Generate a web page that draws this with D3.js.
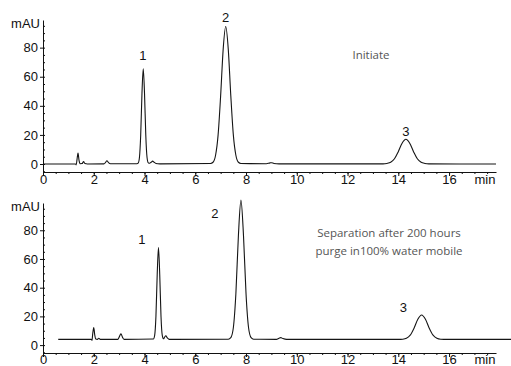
<!DOCTYPE html>
<html>
<head>
<meta charset="utf-8">
<script src="https://cdn.jsdelivr.net/npm/d3@7"></script>
<style>
  html, body { margin: 0; padding: 0; background: #fff; }
  svg { display: block; }
</style>
</head>
<body>
<div id="chart"></div>
<script>
// Axis ticks (minutes / mAU)
const xTicks = [0, 2, 4, 6, 8, 10, 12, 14, 16];
const xMinorTicks = d3.range(0, 18, 0.5);
const yTicks = [0, 20, 40, 60, 80];
const yMinorTicks = d3.range(-5, 100, 5);

// Initial chromatogram, [min, mAU]
const initialTrace = [
    [0, 0], [1.28, 0], [1.31, -0.6], [1.34, 3], [1.38, 7.5], [1.42, 2.5], [1.46, 0.2],
    [1.54, 0.3], [1.6, 1.6], [1.65, 0.3], [1.75, 0],
    [2.4, 0.1], [2.46, 1], [2.52, 2.2], [2.58, 1], [2.66, 0.2],
    [3.7, 0.2], [3.75, 0.6], [3.8, 4.5], [3.85, 20], [3.9, 48.6], [3.95, 65.5], [4.0, 48.6],
    [4.05, 20], [4.1, 4.5], [4.15, 0.8], [4.2, 0.5], [4.26, 1.2], [4.32, 2], [4.38, 1.2],
    [4.45, 0.4], [4.6, 0.1],
    [6.6, 0.3], [6.7, 1.2], [6.8, 6], [6.9, 20], [7.0, 47], [7.1, 79], [7.2, 94.5], [7.3, 79],
    [7.4, 47], [7.5, 20], [7.6, 6], [7.7, 1.2], [7.8, 0.3],
    [8.8, 0.2], [8.95, 0.8], [9.0, 0.9], [9.1, 0.4], [9.3, 0.1],
    [13.4, 0.1], [13.55, 0.4], [13.7, 1.2], [13.85, 3.6], [14.0, 8.5], [14.15, 14.3], [14.3, 17],
    [14.45, 14.3], [14.6, 8.5], [14.75, 3.6], [14.9, 1.2], [15.05, 0.4], [15.2, 0.1],
    [17.85, 0]
];

// After 200 h purge in 100% water
const agedTrace = [
    [0.6, 4], [1.9, 4], [1.93, 3.3], [1.96, 8], [2.0, 12.3], [2.04, 7], [2.08, 4.2],
    [2.14, 4], [2.2, 4.8], [2.26, 4],
    [2.95, 4], [3.0, 5.5], [3.07, 7.8], [3.14, 5.2], [3.2, 4],
    [4.35, 4.3], [4.4, 6.8], [4.45, 20], [4.5, 49], [4.55, 68], [4.6, 49], [4.65, 20],
    [4.7, 6.8], [4.75, 4.4], [4.79, 5.5], [4.84, 6.5], [4.9, 5], [4.98, 4],
    [7.3, 4.1], [7.4, 5.2], [7.5, 12.1], [7.6, 35.8], [7.7, 76.4], [7.8, 101], [7.9, 76.4],
    [8.0, 35.8], [8.1, 12.1], [8.2, 5.2], [8.3, 4.1],
    [9.2, 4], [9.3, 4.8], [9.37, 5.2], [9.45, 4.6], [9.6, 4],
    [14.1, 4], [14.17, 4.1], [14.32, 4.75], [14.47, 6.9], [14.62, 11.8], [14.77, 18],
    [14.92, 21], [15.07, 18], [15.22, 11.8], [15.37, 6.9], [15.52, 4.75], [15.67, 4.1],
    [15.8, 4], [18.45, 4]
];

// Peak numbers, anchored in data units
const initialPeakLabels = [
    { text: '1', t: 3.94, v: 71.5 },
    { text: '2', t: 7.2, v: 97.6 },
    { text: '3', t: 14.3, v: 19.2 }
];
const agedPeakLabels = [
    { text: '1', t: 3.9, v: 70.4 },
    { text: '2', t: 6.77, v: 88.5 },
    { text: '3', t: 14.2, v: 23 }
];

const initialNote = ['Initiate'];
const agedNote = ['Separation after 200 hours', 'purge in100% water mobile'];

const width = 511;
const height = 366;

const svg = d3.select('#chart')
    .append('svg')
    .attr('width', width)
    .attr('height', height)
    .attr('viewBox', `0 0 ${width} ${height}`);

const x = d3.scaleLinear().domain([0, 17.85]).range([43, 496]);

const line = (y) => d3.line()
    .x(d => x(d[0]))
    .y(d => y(d[1]))
    .curve(d3.curveMonotoneX);

function drawPanel(opts) {
    const y = d3.scaleLinear().domain([-5.5, 99]).range([opts.bottom, opts.top]);
    const g = svg.append('g');

    // x axis
    const xAxis = g.append('g')
        .attr('transform', `translate(0,${opts.bottom})`)
        .call(d3.axisBottom(x).tickValues(xTicks).tickSize(4).tickSizeOuter(0).tickFormat(d3.format('d')));
    xAxis.selectAll('text').attr('y', opts.labelGap);
    g.append('g')
        .attr('transform', `translate(0,${opts.bottom})`)
        .call(d3.axisBottom(x).tickValues(xMinorTicks).tickSize(2).tickFormat(''))
        .select('.domain').remove();

    g.append('text')
        .attr('x', 485)
        .attr('y', opts.bottom + opts.labelGap)
        .attr('dy', '0.71em')
        .attr('text-anchor', 'middle')
        .attr('class', 'axis-label')
        .text('min');

    // y axis
    g.append('g')
        .attr('transform', 'translate(43,0)')
        .call(d3.axisLeft(y).tickValues(yTicks).tickSize(3).tickSizeOuter(0).tickPadding(2));
    g.append('g')
        .attr('transform', 'translate(43,0)')
        .call(d3.axisRight(y).tickValues(yMinorTicks).tickSize(2).tickFormat(''))
        .select('.domain').remove();

    g.append('text')
        .attr('x', 40)
        .attr('y', opts.top + 8)
        .attr('text-anchor', 'end')
        .attr('class', 'axis-label')
        .text('mAU');

    g.selectAll('.tick text, .axis-label')
        .attr('font-family', '"Liberation Sans", Arial, sans-serif')
        .attr('font-size', 13)
        .attr('fill', '#111');
    g.selectAll('.domain, .tick line').attr('stroke', '#111');

    // trace
    g.append('path')
        .datum(opts.trace)
        .attr('fill', 'none')
        .attr('stroke', '#151515')
        .attr('stroke-width', 1.1)
        .attr('d', line(y));

    // peak numbers
    g.selectAll('.peak-label')
        .data(opts.peaks)
        .join('text')
        .attr('class', 'peak-label')
        .attr('x', d => x(d.t))
        .attr('y', d => y(d.v))
        .attr('text-anchor', 'middle')
        .attr('font-family', '"Liberation Sans", Arial, sans-serif')
        .attr('font-size', 13)
        .attr('fill', '#111')
        .text(d => d.text);

    // note
    g.append('text')
        .attr('x', opts.noteX)
        .attr('y', opts.noteY)
        .attr('text-anchor', 'middle')
        .attr('font-family', '"Open Sans", sans-serif')
        .attr('font-size', 11.5)
        .attr('fill', '#555')
        .selectAll('tspan')
        .data(opts.note)
        .join('tspan')
        .attr('x', opts.noteX)
        .attr('dy', (d, i) => i === 0 ? 0 : 18)
        .text(d => d);
}

drawPanel({
    top: 20, bottom: 172, labelGap: 3,
    trace: initialTrace, peaks: initialPeakLabels,
    note: initialNote, noteX: 371, noteY: 59
});

drawPanel({
    top: 203, bottom: 353, labelGap: 2,
    trace: agedTrace, peaks: agedPeakLabels,
    note: agedNote, noteX: 389, noteY: 237
});
</script>
</body>
</html>
